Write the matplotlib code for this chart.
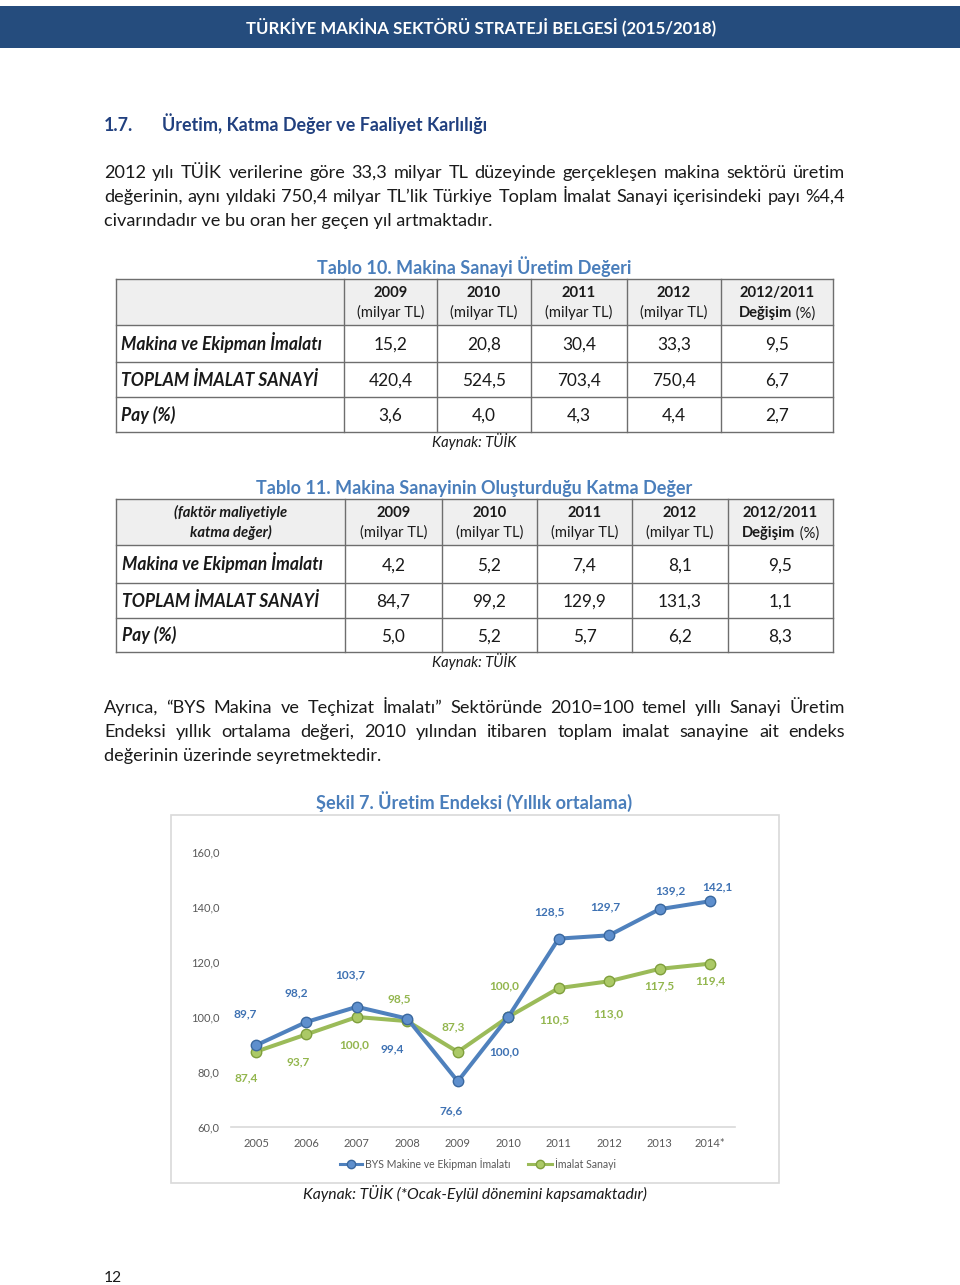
import matplotlib
matplotlib.use("Agg")
import matplotlib.pyplot as plt
from matplotlib.patches import Rectangle
from matplotlib.lines import Line2D

FONT = "Lato"
W, H = 960, 1285

# ---------------- data ----------------
header_title = "TÜRKİYE MAKİNA SEKTÖRÜ STRATEJİ BELGESİ (2015/2018)"
section_no = "1.7."
section_title = "Üretim, Katma Değer ve Faaliyet Karlılığı"
para1 = [
    "2012 yılı TÜİK verilerine göre 33,3 milyar TL düzeyinde gerçekleşen makina sektörü üretim",
    "değerinin, aynı yıldaki 750,4 milyar TL’lik Türkiye Toplam İmalat Sanayi içerisindeki payı %4,4",
    "civarındadır ve bu oran her geçen yıl artmaktadır.",
]
para2 = [
    "Ayrıca, “BYS Makina ve Teçhizat İmalatı” Sektöründe 2010=100 temel yıllı Sanayi Üretim",
    "Endeksi yıllık ortalama değeri, 2010 yılından itibaren toplam imalat sanayine ait endeks",
    "değerinin üzerinde seyretmektedir.",
]
t10_caption = "Tablo 10. Makina Sanayi Üretim Değeri"
t11_caption = "Tablo 11. Makina Sanayinin Oluşturduğu Katma Değer"
table_years = ["2009", "2010", "2011", "2012"]
unit_label = "(milyar TL)"
change_label = "2012/2011"
row_labels = ["Makina ve Ekipman İmalatı", "TOPLAM İMALAT SANAYİ", "Pay (%)"]
t10_values = [["15,2", "20,8", "30,4", "33,3", "9,5"],
              ["420,4", "524,5", "703,4", "750,4", "6,7"],
              ["3,6", "4,0", "4,3", "4,4", "2,7"]]
t11_corner = ["(faktör maliyetiyle", "katma değer)"]
t11_values = [["4,2", "5,2", "7,4", "8,1", "9,5"],
              ["84,7", "99,2", "129,9", "131,3", "1,1"],
              ["5,0", "5,2", "5,7", "6,2", "8,3"]]
table_source = "Kaynak: TÜİK"
fig_caption = "Şekil 7. Üretim Endeksi (Yıllık ortalama)"
fig_source = "Kaynak: TÜİK (*Ocak-Eylül dönemini kapsamaktadır)"
years = ["2005", "2006", "2007", "2008", "2009", "2010", "2011", "2012", "2013", "2014*"]
bys = [89.7, 98.2, 103.7, 99.4, 76.6, 100.0, 128.5, 129.7, 139.2, 142.1]
imalat = [87.4, 93.7, 100.0, 98.5, 87.3, 100.0, 110.5, 113.0, 117.5, 119.4]
series_names = ["BYS Makine ve Ekipman İmalatı", "İmalat Sanayi"]
y_ticks = [60, 80, 100, 120, 140, 160]
page_no = "12"

# ---------------- styles ----------------
TXT = "#1a1a1a"
HEAD_BLUE = "#21407f"
CAP_BLUE = "#4A7EBB"
BAR_BLUE = "#254C7D"
LINE_BLUE = "#4F81BD"
LINE_GREEN = "#9BBB59"
GRID = "#6e6e6e"

plt.rcParams["font.family"] = [FONT, "DejaVu Sans"]

fig = plt.figure(figsize=(W / 100, H / 100), dpi=100)
bg = fig.add_axes([0, 0, 1, 1])
bg.set_xlim(0, W)
bg.set_ylim(H, 0)
bg.axis("off")
R = fig.canvas.get_renderer()


def width(t):
    return t.get_window_extent(renderer=R).width


def T(x, y, s, size, ha="left", weight="normal", style="normal", color=TXT, vc=True, **kw):
    base = y + (0.36 * size * 100 / 72 if vc else 0)
    return bg.text(x, base, s, fontsize=size, ha=ha, va="baseline", fontweight=weight,
                   fontstyle=style, color=color, **kw)


def fit(x, y, s, target, size0=12, **kw):
    t = T(x, y, s, size0, **kw)
    w = width(t)
    size = size0 * target / w
    t.remove()
    return T(x, y, s, size, **kw), size


def fit_size(s, target, size0=12, **kw):
    t = T(0, 0, s, size0, **kw)
    w = width(t)
    t.remove()
    return size0 * target / w


def justify(line, x0, x1, y, size, **kw):
    words = line.split(" ")
    ts = [T(0, y, w, size, **kw) for w in words]
    ws = [width(t) for t in ts]
    gap = (x1 - x0 - sum(ws)) / (len(words) - 1)
    x = x0
    for t, w in zip(ts, ws):
        t.set_x(x)
        x += w + gap


# ---------------- header bar ----------------
bg.add_patch(Rectangle((0, 6), W, 42, facecolor=BAR_BLUE, edgecolor="none"))
fit(481, 27, header_title, 470, ha="center", weight="bold", color="white")

# ---------------- section heading ----------------
fit(104, 125, section_no, 29, weight="bold", color=HEAD_BLUE)
fit(162, 125, section_title, 324, weight="bold", color=HEAD_BLUE)

# ---------------- paragraph 1 ----------------
body_size = fit_size(para1[2], 387)
for i, line in enumerate(para1):
    y = 178 + 24 * i
    if i < len(para1) - 1:
        justify(line, 104, 845, y, body_size, vc=False)
    else:
        T(104, y, line, body_size, vc=False)

# ---------------- tables ----------------
lab_size = fit_size(row_labels[0], 201, weight="bold", style="italic")
unit_size = fit_size(unit_label, 67)
val_size = lab_size * 0.98
hdr_size = unit_size


def draw_table(cols, rows, values, corner=None, label_x=121):
    x0, x1 = cols[0], cols[-1]
    bg.add_patch(Rectangle((x0, rows[0]), x1 - x0, rows[1] - rows[0],
                           facecolor="#EFEFEF", edgecolor="none"))
    for y in rows:
        bg.add_line(Line2D([x0, x1], [y, y], color=GRID, lw=1))
    for x in cols:
        bg.add_line(Line2D([x, x], [rows[0], rows[-1]], color=GRID, lw=1))
    top = rows[0]
    # header
    if corner:
        cx = (cols[0] + cols[1]) / 2
        T(cx, top + 13, corner[0], hdr_size, ha="center", weight="bold", style="italic")
        T(cx, top + 33, corner[1], hdr_size, ha="center", weight="bold", style="italic")
    for j, yr in enumerate(table_years):
        cx = (cols[j + 1] + cols[j + 2]) / 2
        T(cx, top + 13, yr, hdr_size, ha="center", weight="bold")
        T(cx, top + 33, unit_label, unit_size, ha="center")
    cx = (cols[5] + cols[6]) / 2
    T(cx, top + 13, change_label, hdr_size, ha="center", weight="bold")
    a = T(0, top + 33, "Değişim", hdr_size, weight="bold")
    b = T(0, top + 33, " (%)", unit_size)
    wa, wb = width(a), width(b)
    a.set_x(cx - (wa + wb) / 2)
    b.set_x(cx - (wa + wb) / 2 + wa)
    # body
    for i, lab in enumerate(row_labels):
        cy = (rows[i + 1] + rows[i + 2]) / 2
        T(label_x, cy, lab, lab_size, weight="bold", style="italic")
        for j, v in enumerate(values[i]):
            cx = (cols[j + 1] + cols[j + 2]) / 2
            T(cx, cy, v, val_size, ha="center")


fit(474, 267, t10_caption, 313, ha="center", weight="bold", color=CAP_BLUE)
draw_table([116, 344, 437, 531, 627, 721, 833], [279, 325, 362, 397, 432], t10_values, label_x=121)
T(474, 442, table_source, unit_size, ha="center", style="italic")

fit(474, 488, t11_caption, 434, ha="center", weight="bold", color=CAP_BLUE)
draw_table([116, 345, 442, 537, 632, 728, 833], [499, 545, 583, 618, 652], t11_values,
           corner=t11_corner, label_x=122)
T(474, 662, table_source, unit_size, ha="center", style="italic")

# ---------------- paragraph 2 ----------------
for i, line in enumerate(para2):
    y = 713 + 24 * i
    if i < len(para2) - 1:
        justify(line, 104, 845, y, body_size, vc=False)
    else:
        T(104, y, line, body_size, vc=False)

# ---------------- figure ----------------
fit(474, 802, fig_caption, 315, ha="center", weight="bold", color=CAP_BLUE)
bg.add_patch(Rectangle((171, 815), 608, 368, facecolor="white", edgecolor="#D9D9D9", lw=1.2))

px_left, px_right = 230.8, 735.2
py_top, py_bot = 852, 1127
ax = fig.add_axes([px_left / W, (H - py_bot) / H, (px_right - px_left) / W, (py_bot - py_top) / H])
ax.patch.set_alpha(0)
xs = list(range(len(years)))
ax.plot(xs, imalat, color=LINE_GREEN, lw=2.9, marker="o", ms=7.5, mfc="#ABC966",
        mec="#7F9F3C", mew=1.0, zorder=3)
ax.plot(xs, bys, color=LINE_BLUE, lw=2.9, marker="o", ms=7.5, mfc="#5E8FCD",
        mec="#3A689F", mew=1.0, zorder=4)
ax.set_xlim(-0.5, len(years) - 0.5)
ax.set_ylim(60, 160)
ax.set_xticks(xs)
ax.set_xticklabels(years)
ax.set_yticks(y_ticks)
ax.set_yticklabels([f"{v:.1f}".replace(".", ",") for v in y_ticks])
ax.tick_params(length=0, labelsize=8, colors="#595959", pad=8)
for s in ["left", "right", "top"]:
    ax.spines[s].set_visible(False)
ax.spines["bottom"].set_color("#D9D9D9")
ax.spines["bottom"].set_linewidth(1.2)

k = 0.72  # px -> pt
blue_off = [(-11, 31), (-10, 29), (-7, 32), (-15, -30), (-7, -29), (-4, -35),
            (-9, 27), (-4, 28), (11, 18), (7, 14)]
green_off = [(-10, -26), (-8, -28), (-3, -28), (-8, 22), (-5, 25), (-4, 31),
             (-4, -32), (-1, -33), (0, -17), (0, -17)]
for i, v in enumerate(bys):
    dx, dy = blue_off[i]
    ax.annotate(f"{v:.1f}".replace(".", ","), (i, v), xytext=(dx * k, dy * k),
                textcoords="offset points", ha="center", va="center", fontsize=8.6,
                fontweight="bold", color="#3F72B3", annotation_clip=False)
for i, v in enumerate(imalat):
    dx, dy = green_off[i]
    ax.annotate(f"{v:.1f}".replace(".", ","), (i, v), xytext=(dx * k, dy * k),
                textcoords="offset points", ha="center", va="center", fontsize=8.6,
                fontweight="bold", color="#93B64E", annotation_clip=False)

# legend
bg.add_line(Line2D([340, 362], [1164, 1164], color=LINE_BLUE, lw=2.2))
bg.add_line(Line2D([351], [1164], marker="o", ms=6, mfc="#5E8FCD", mec="#3A689F", lw=0))
T(365, 1164, series_names[0], 7.6, color="#595959")
bg.add_line(Line2D([528, 552], [1164, 1164], color=LINE_GREEN, lw=2.2))
bg.add_line(Line2D([540], [1164], marker="o", ms=6, mfc="#ABC966", mec="#7F9F3C", lw=0))
T(555, 1164, series_names[1], 7.6, color="#595959")

fit(475, 1193, fig_source, 342, ha="center", style="italic")
fit(104, 1276, page_no, 18)

fig.savefig("out.png", dpi=100)
